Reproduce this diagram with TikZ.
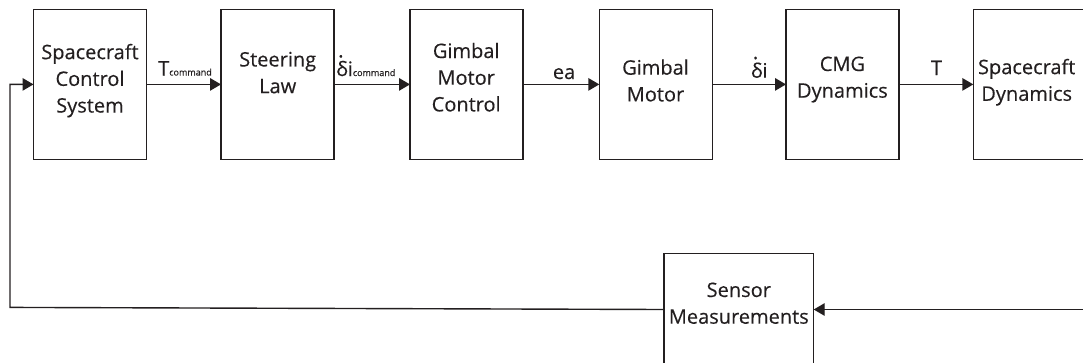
\documentclass[tikz,border=0pt]{standalone}
\usepackage{fontspec}
\setmainfont{Open Sans}[FakeBold=0.3]
\usetikzlibrary{arrows.meta}
\definecolor{ink}{HTML}{231F20}
% delta with an overdot (time derivative)
\newcommand{\dotdelta}{\makebox[0pt][l]{\hspace{0.1em}\raisebox{0.93em}{.}}δ}
\newcommand{\cmdsub}{{\fontsize{9}{10}\selectfont command}}
\begin{document}
\begin{tikzpicture}[x=1pt,y=-1pt,
  block/.style={draw=ink, line width=1.4pt, fill=none, anchor=north west,
    inner sep=0pt, outer sep=0pt, minimum width=113pt, minimum height=149.8pt},
  openblock/.style={anchor=north west, inner sep=0pt, outer sep=0pt},
  boxtext/.style={text=ink, align=center, inner sep=0pt,
    font=\fontsize{20}{26.7}\selectfont},
  lab/.style={text=ink, anchor=base west, inner sep=0pt,
    font=\fontsize{20}{24}\selectfont},
  flow/.style={draw=ink, line width=1.4pt,
    -{Triangle[length=11pt,width=12.5pt]}},
  wire/.style={draw=ink, line width=1.4pt}]
\useasboundingbox (0,0) rectangle (1083,362);

% forward path blocks
\node[block] (b1) at (33.5,9.5) {};
\node[block] (b2) at (221,9.5) {};
\node[block] (b3) at (410,9.5) {};
\node[block] (b4) at (599.3,9.5) {};
\node[block] (b5) at (786,9.5) {};
\node[openblock, minimum width=112pt, minimum height=149.8pt] (b6) at (973.3,9.5) {};
\draw[wire] (b6.north east) -- (b6.north west) -- (b6.south west) -- (b6.south east);
% feedback block, its lower edge lies below the frame
\node[openblock, minimum width=149.7pt, minimum height=112pt] (sensor) at (664,253.3) {};
\draw[wire] (sensor.south west) -- (sensor.north west) -- (sensor.north east) -- (sensor.south east);

% block texts
\node[boxtext] (t1) at (90,80.6) {Spacecraft\\Control\\System};
\node[boxtext] (t2) at (277.7,72.6) {Steering\\Law};
\node[boxtext] (t3) at (466.2,77.2) {Gimbal\\Motor\\Control};
\node[boxtext] (t4) at (655.5,80.5) {Gimbal\\Motor};
\node[boxtext] (t5) at (842.4,79.5) {CMG\\Dynamics};
\node[boxtext] (t6) at (1026.7,82.2) {Spacecraft\\Dynamics};
\node[boxtext] (t7) at (738.8,303.2) {Sensor\\Measurements};

% forward connectors
\draw[flow] (b1.east) -- (b2.west);
\draw[flow] (b2.east) -- (b3.west);
\draw[flow] (b3.east) -- (b4.west);
\draw[flow] (b4.east) -- (b5.west);
\draw[flow] (b5.east) -- (b6.west);

% signal labels
\node[lab] (l1) at (158,75.5) {T\cmdsub};
\node[lab] (l2) at (336,76) {\dotdelta i\cmdsub};
\node[lab] (l3) at (552.7,79) {ea};
\node[lab] (l4) at (750.7,77.7) {\dotdelta i};
\node[lab] (l5) at (930.7,75) {T};

% feedback loop
\coordinate (fbr) at (1083,309.5);
\coordinate (fbl) at (10,307.4);
\draw[flow] (fbr) -- (sensor.east |- fbr);
\draw[flow] (sensor.west |- fbr) -- (fbl) |- (b1.west);
\end{tikzpicture}
\end{document}
